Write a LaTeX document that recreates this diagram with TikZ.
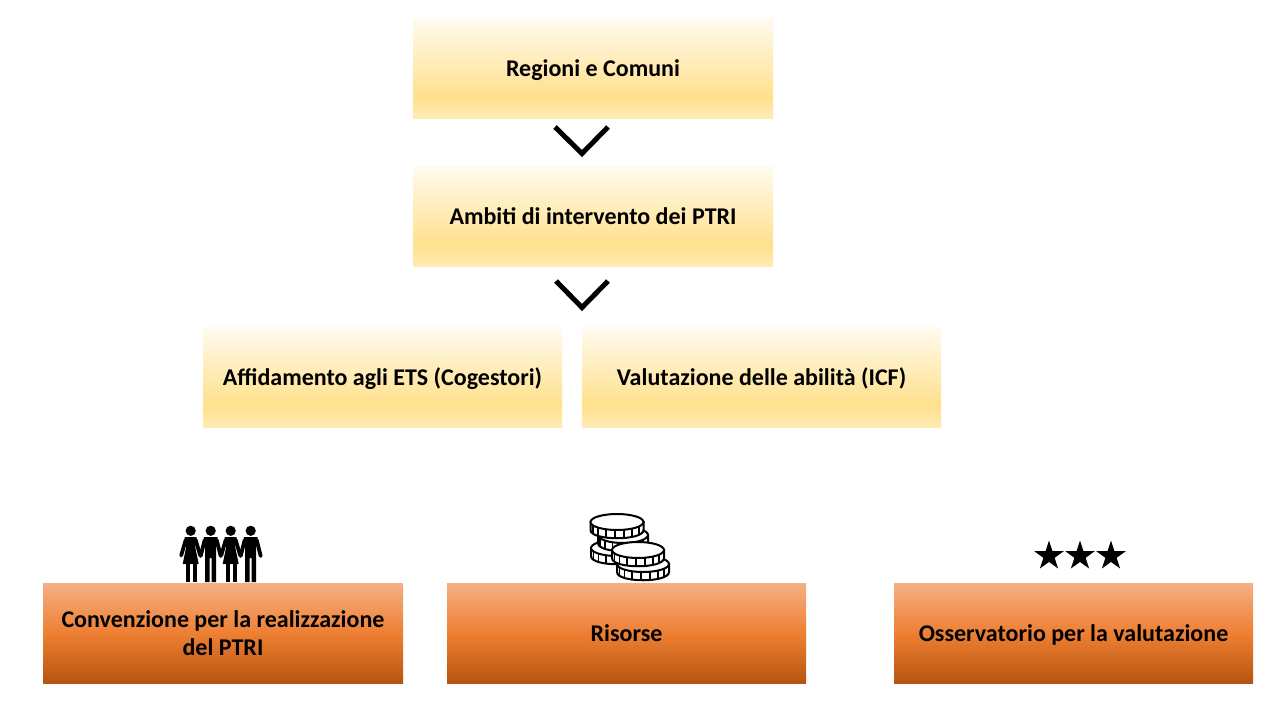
\documentclass[tikz,border=0pt]{standalone}
\usepackage{fontspec}
\setmainfont{Carlito}
\usetikzlibrary{shapes.geometric}
\definecolor{yb1}{HTML}{FFFBF0}
\definecolor{yb2}{HTML}{FFE08C}
\definecolor{yb3}{HTML}{FFEBB5}
\definecolor{ob1}{HTML}{F4B183}
\definecolor{ob2}{HTML}{EE7F33}
\definecolor{ob3}{HTML}{B5540F}
\pgfdeclareverticalshading{yshade}{100bp}{color(0bp)=(yb3); color(25bp)=(yb3); color(36bp)=(yb2); color(75bp)=(yb1); color(100bp)=(yb1)}
\pgfdeclareverticalshading{oshade}{100bp}{color(0bp)=(ob3); color(25bp)=(ob3); color(50bp)=(ob2); color(75bp)=(ob1); color(100bp)=(ob1)}
\tikzset{
 x=1pt,y=-1pt,
 basebox/.style={minimum width=360pt,minimum height=100.5pt,inner sep=0pt,align=center,font=\fontsize{24}{28}\selectfont\bfseries,text=black},
 ybox/.style={basebox,shading=yshade},
 obox/.style={basebox,shading=oshade},
 oneline/.style={text height=21pt,text depth=5pt},
 chev/.style={draw=black,line width=5pt,miter limit=10},
 coin/.style={draw=black,line width=2pt,fill=white},
 limb/.style={draw=black,line width=3.8pt,line cap=round},
}
\newcommand{\coinpic}[3]{%
 \begin{scope}[shift={(#1,#2)}]
  \path[coin] (-#3,0) -- (-#3,8) .. controls (-#3,19) and (#3,19) .. (#3,8) -- (#3,0) -- cycle;
  \foreach \a in {205,225,...,335}{\draw[black,line width=1.7pt] ({#3*cos(\a)},{-8*sin(\a)}) -- ++(0,8);}
  \path[coin] (0,0) ellipse[x radius=#3,y radius=8];
 \end{scope}}
\begin{document}
\begin{tikzpicture}
\useasboundingbox (0,0) rectangle (1280,720);
\fill[white] (0,0) rectangle (1280,720);
\node[ybox,oneline] (a) at (593,68.5) {Regioni e Comuni};
\node[ybox,oneline] (b) at (593,216.5) {Ambiti di intervento dei PTRI};
\node[ybox,oneline,minimum width=359pt,minimum height=100pt] (c) at (382.5,377) {Affidamento agli ETS (Cogestori)};
\node[ybox,oneline,minimum width=359pt,minimum height=100pt] (d) at (761.5,377) {Valutazione delle abilità (ICF)};
\node[obox] (e) at (223,633.5) {Convenzione per la realizzazione\\del PTRI};
\node[obox,oneline,minimum width=359pt] (f) at (626.5,633.5) {Risorse};
\node[obox,oneline,minimum width=359pt] (g) at (1073.5,633.5) {Osservatorio per la valutazione};
\coordinate (c1l) at (555,127);\coordinate (c1m) at (582,153.5);\coordinate (c1r) at (608,127);
\coordinate (c2l) at (556,281);\coordinate (c2m) at (582,307.5);\coordinate (c2r) at (608,281);
\draw[chev] (c1l) -- (c1m) -- (c1r);
\draw[chev] (c2l) -- (c2m) -- (c2r);
% people
\foreach \px in {190.7,230.7}{
 \fill (\px,530.8) circle[radius=5.1];
 \draw[limb] (\px-5,540) -- (\px-9.5,555.5);
 \draw[limb] (\px+5,540) -- (\px+9.5,555.5);
 \fill (\px-6,537) -- (\px+6,537) -- (\px+6,541) -- (\px+4.5,547) -- (\px+8,564) -- (\px-8,564) -- (\px-4.5,547) -- (\px-6,541) -- cycle;
 \fill (\px-5,564) rectangle (\px-1,582);
 \fill (\px+2,564) rectangle (\px+6,582);
}
\foreach \px in {210.7,250.7}{
 \fill (\px,530.8) circle[radius=5.1];
 \draw[limb] (\px-6,540) -- (\px-10,556);
 \draw[limb] (\px+6,540) -- (\px+10,556);
 \fill (\px-7,537) -- (\px+7,537) -- (\px+5.5,548) -- (\px+5.5,582) -- (\px+1,582) -- (\px+1,558) -- (\px-1,558) -- (\px-1,582) -- (\px-5.5,582) -- (\px-5.5,548) -- cycle;
}
% coins
\coinpic{617}{548}{26}
\coinpic{623}{535}{25}
\coinpic{617}{522}{26.5}
\coinpic{643}{564}{26}
\coinpic{638}{550}{26}
% stars
\foreach \sx in {1049,1080,1111}{
 \node[star,star points=5,star point ratio=2.618,fill=black,draw=none,minimum size=31pt,inner sep=0pt] (s\sx) at (\sx,556) {};
}
\end{tikzpicture}
\end{document}
